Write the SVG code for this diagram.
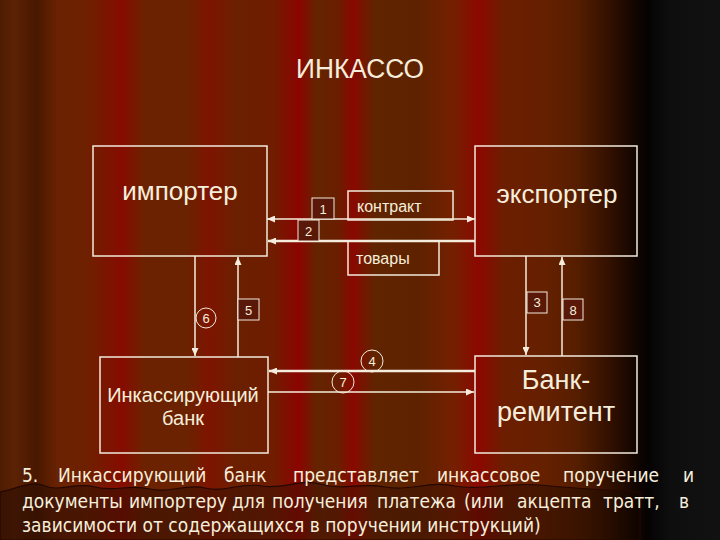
<svg xmlns="http://www.w3.org/2000/svg" width="720" height="540" viewBox="0 0 720 540">
  <defs>
    <linearGradient id="curtain" x1="0" y1="0" x2="720" y2="0" gradientUnits="userSpaceOnUse">
      <stop offset="0" stop-color="#4e1c02"/>
      <stop offset="0.02" stop-color="#5c2204"/>
      <stop offset="0.05" stop-color="#481800"/>
      <stop offset="0.08" stop-color="#6a2202"/>
      <stop offset="0.12" stop-color="#6e2000"/>
      <stop offset="0.17" stop-color="#860c00"/>
      <stop offset="0.2" stop-color="#6c2200"/>
      <stop offset="0.26" stop-color="#6a2200"/>
      <stop offset="0.29" stop-color="#7e1400"/>
      <stop offset="0.33" stop-color="#6a2000"/>
      <stop offset="0.38" stop-color="#701c00"/>
      <stop offset="0.415" stop-color="#8c0400"/>
      <stop offset="0.44" stop-color="#642400"/>
      <stop offset="0.47" stop-color="#6a1e00"/>
      <stop offset="0.49" stop-color="#8a0800"/>
      <stop offset="0.52" stop-color="#602400"/>
      <stop offset="0.58" stop-color="#5e2200"/>
      <stop offset="0.63" stop-color="#742000"/>
      <stop offset="0.665" stop-color="#8c0800"/>
      <stop offset="0.7" stop-color="#6c1e00"/>
      <stop offset="0.76" stop-color="#642000"/>
      <stop offset="0.8" stop-color="#561e00"/>
      <stop offset="0.84" stop-color="#381200"/>
      <stop offset="0.88" stop-color="#140600"/>
      <stop offset="0.9" stop-color="#050202"/>
      <stop offset="0.93" stop-color="#0e0e0e"/>
      <stop offset="1" stop-color="#121212"/>
    </linearGradient>
    <linearGradient id="drape" x1="0" y1="0" x2="720" y2="0" gradientUnits="userSpaceOnUse">
      <stop offset="0" stop-color="#2a0c02" stop-opacity="0.6"/>
      <stop offset="0.5" stop-color="#3a1004" stop-opacity="0.45"/>
      <stop offset="0.8" stop-color="#1a0800" stop-opacity="0.45"/>
      <stop offset="1" stop-color="#000000" stop-opacity="0"/>
    </linearGradient>
    <marker id="arr" markerUnits="userSpaceOnUse" markerWidth="8" markerHeight="7" refX="8" refY="3.5" orient="auto-start-reverse">
      <path d="M0,0 L8,3.5 L0,7 z" fill="#f4ecdc"/>
    </marker>
    <style>
      .box { fill: none; stroke: #f2eadb; stroke-width: 1.5; }
      .nbox { fill: #5a1808; stroke: #f2eadb; stroke-width: 1; }
      .circ { fill: none; stroke: #f2eadb; stroke-width: 1; }
      .ln { stroke: #f4ecdc; fill: none; stroke-width: 1.5; }
      .thick { stroke-width: 2.5; }
      .t { fill: #f6eedc; font-family: "Liberation Sans", Arial, sans-serif; }
      .big { font-size: 26px; }
      .mid { font-size: 16px; }
      .num { font-size: 13px; text-anchor: middle; }
      .c { text-anchor: middle; }
      .cap { fill: #f6eedc; font-family: "DejaVu Sans Condensed", "DejaVu Sans", sans-serif; font-stretch: condensed; font-size: 19px; }
    </style>
  </defs>

  <rect x="0" y="0" width="720" height="540" fill="url(#curtain)"/>
  <path d="M0,492 C20,488 30,480 45,486 C60,492 75,482 95,487 C115,492 130,484 150,489 C170,494 185,483 205,488 C225,493 240,482 262,486 C285,490 300,478 320,484 C345,491 360,482 385,487 C410,492 430,480 455,486 C480,491 510,482 540,485 C570,488 600,490 640,492 L640,540 L0,540 Z" fill="url(#drape)" stroke="#240800" stroke-width="1.2"/>

  <g id="title">
    <text class="t c" x="360" y="78" font-size="27" textLength="128" lengthAdjust="spacingAndGlyphs">ИНКАССО</text>
  </g>

  <g id="importer">
    <rect class="box" x="93" y="146" width="174" height="110"/>
    <text class="t big c" x="180" y="200">импортер</text>
  </g>

  <g id="exporter">
    <rect class="box" x="475" y="146" width="162" height="110"/>
    <text class="t big c" x="557" y="203">экспортер</text>
  </g>

  <g id="contract">
    <rect class="box" x="348" y="191" width="105" height="29"/>
    <text class="t mid" x="357" y="212">контракт</text>
  </g>

  <g id="goods">
    <rect class="box" x="348" y="241" width="91" height="34"/>
    <text class="t mid" x="356" y="264">товары</text>
  </g>

  <g id="collecting-bank">
    <rect class="box" x="100" y="357" width="168" height="96"/>
    <text class="t c" x="183" y="402" font-size="20">Инкассирующий</text>
    <text class="t c" x="183" y="425" font-size="20">банк</text>
  </g>

  <g id="remitting-bank">
    <rect class="box" x="475" y="356" width="162" height="97"/>
    <text class="t c" x="556" y="389" font-size="27">Банк-</text>
    <text class="t c" x="556" y="421" font-size="27">ремитент</text>
  </g>

  <g id="connectors">
    <line class="ln" x1="267" y1="219" x2="475" y2="219" marker-start="url(#arr)" marker-end="url(#arr)"/>
    <line class="ln thick" x1="475" y1="241" x2="268" y2="241" marker-end="url(#arr)"/>
    <line class="ln" x1="195" y1="256" x2="195" y2="356" marker-end="url(#arr)"/>
    <line class="ln" x1="238" y1="357" x2="238" y2="257" marker-end="url(#arr)"/>
    <line class="ln" x1="526" y1="256" x2="526" y2="355" marker-end="url(#arr)"/>
    <line class="ln" x1="562" y1="356" x2="562" y2="257" marker-end="url(#arr)"/>
    <line class="ln thick" x1="475" y1="371" x2="269" y2="371" marker-end="url(#arr)"/>
    <line class="ln" x1="268" y1="392" x2="474" y2="392" marker-end="url(#arr)"/>
  </g>

  <g id="step-labels">
    <g id="s1"><rect class="nbox" x="312" y="198" width="22" height="21"/><text class="t num" x="323" y="214">1</text></g>
    <g id="s2"><rect class="nbox" x="298" y="220" width="21" height="21"/><text class="t num" x="308.5" y="236">2</text></g>
    <g id="s3"><rect class="nbox" x="527" y="292" width="20" height="21"/><text class="t num" x="537" y="307">3</text></g>
    <g id="s4"><circle class="circ" cx="372" cy="361" r="11"/><text class="t num" x="372" y="366">4</text></g>
    <g id="s5"><rect class="nbox" x="238" y="299" width="21" height="21"/><text class="t num" x="248.5" y="315">5</text></g>
    <g id="s6"><circle class="circ" cx="206" cy="318" r="10"/><text class="t num" x="206" y="323">6</text></g>
    <g id="s7"><circle class="circ" cx="343" cy="382" r="11"/><text class="t num" x="343" y="387">7</text></g>
    <g id="s8"><rect class="nbox" x="563" y="299" width="20" height="21"/><text class="t num" x="573" y="315">8</text></g>
  </g>

  <g id="caption">
    <text class="cap" y="482"><tspan x="22">5.</tspan><tspan x="58">Инкассирующий</tspan><tspan x="224">банк</tspan><tspan x="293">представляет</tspan><tspan x="437">инкассовое</tspan><tspan x="563">поручение</tspan><tspan x="683">и</tspan></text>
    <text class="cap" y="508"><tspan x="22">документы</tspan><tspan x="129">импортеру</tspan><tspan x="232">для</tspan><tspan x="272">получения</tspan><tspan x="377">платежа</tspan><tspan x="464">(или</tspan><tspan x="517">акцепта</tspan><tspan x="603">тратт,</tspan><tspan x="679">в</tspan></text>
    <text class="cap" x="22" y="532">зависимости от содержащихся в поручении инструкций)</text>
  </g>
</svg>
